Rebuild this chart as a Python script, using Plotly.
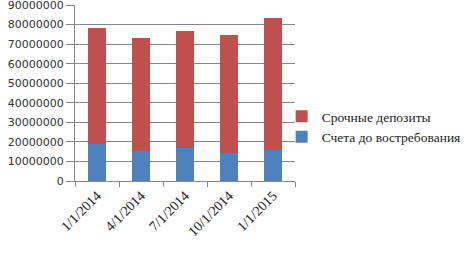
import plotly.graph_objects as go

categories = ["1/1/2014", "4/1/2014", "7/1/2014", "10/1/2014", "1/1/2015"]
demand = [18900000, 15300000, 16900000, 14200000, 15800000]
term = [59300000, 57800000, 59800000, 60400000, 67500000]
tick_vals = [0, 10000000, 20000000, 30000000, 40000000, 50000000, 60000000, 70000000, 80000000, 90000000]

fig = go.Figure()
fig.add_trace(go.Bar(x=categories, y=demand, name="Счета до востребования",
                     marker=dict(color="#4f81bd", line=dict(width=0)), width=0.41))
fig.add_trace(go.Bar(x=categories, y=term, name="Срочные депозиты",
                     marker=dict(color="#c0504d", line=dict(width=0)), width=0.41))

fig.update_layout(
    barmode="stack",
    width=471, height=254,
    margin=dict(l=75, r=176, t=5, b=73, autoexpand=False),
    paper_bgcolor="white", plot_bgcolor="white",
    showlegend=True,
    legend=dict(xref="container", yref="container", x=0.598, y=0.5,
                xanchor="left", yanchor="middle",
                traceorder="reversed",
                font=dict(family="Liberation Serif", size=13.5, color="#222"),
                itemwidth=30, tracegroupgap=0, bgcolor="rgba(0,0,0,0)"),
    xaxis=dict(type="category", tickangle=-45, ticks="outside", ticklen=5,
               tickson="boundaries", tickcolor="#868686",
               showline=True, linecolor="#868686", linewidth=1,
               showgrid=False,
               tickfont=dict(family="Liberation Serif", size=14, color="#222")),
    yaxis=dict(range=[0, 90010000], tickvals=tick_vals, tickformat="d",
               ticks="outside", ticklen=8, tickcolor="#868686",
               ticklabeloverflow="allow",
               showline=True, linecolor="#868686", linewidth=1,
               showgrid=True, gridcolor="#868686", gridwidth=1,
               zeroline=False,
               tickfont=dict(family="DejaVu Sans", size=11, color="#333")),
)

fig.write_html("out.html")
